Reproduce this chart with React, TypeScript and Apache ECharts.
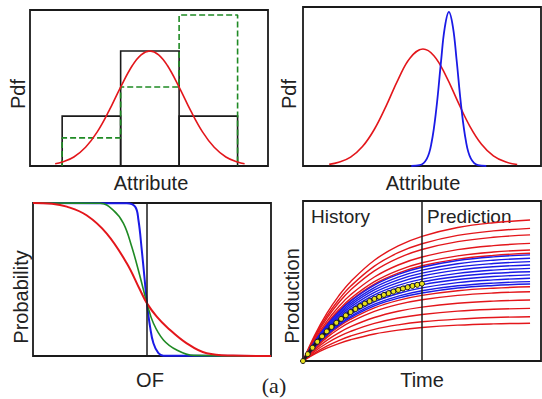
import React, { useEffect, useRef } from "react";
import * as echarts from "echarts";

// ---- Top-left: histogram of an attribute with its fitted pdf ----
const BIN_LEFT = [0, 1, 2];
const BIN_RIGHT = [1, 2, 3];
const BIN_PDF = [0.32, 0.737, 0.32];
const BIN_PDF_ALT = [0.18, 0.506, 0.968];
const FIT_X = [-0.12, 0, 0.2, 0.4, 0.6, 0.8, 1.0, 1.2, 1.35, 1.5, 1.65, 1.8, 2.0, 2.2, 2.4, 2.6, 2.8, 3.0, 3.12];
const FIT_Y = [0.014, 0.025, 0.058, 0.12, 0.219, 0.353, 0.506, 0.644, 0.713, 0.737, 0.713, 0.644, 0.506, 0.353, 0.219, 0.12, 0.058, 0.025, 0.014];

// ---- Top-right: prior (wide) and posterior (narrow) pdf ----
const PRIOR_X = [1.1, 1.5, 2.0, 2.5, 3.0, 3.5, 4.0, 4.5, 5.04, 5.5, 6.0, 6.5, 7.0, 7.5, 8.0, 8.5, 9.0];
const PRIOR_Y = [0.01, 0.023, 0.056, 0.122, 0.231, 0.38, 0.545, 0.679, 0.736, 0.694, 0.569, 0.407, 0.253, 0.137, 0.064, 0.026, 0.009];
const POST_X = [4.55, 4.9, 5.2, 5.4, 5.6, 5.8, 5.95, 6.13, 6.3, 6.45, 6.65, 6.85, 7.05, 7.35, 7.7];
const POST_Y = [0.0, 0.005, 0.045, 0.146, 0.357, 0.658, 0.864, 0.969, 0.874, 0.673, 0.371, 0.153, 0.048, 0.005, 0.0];

// ---- Bottom-left: exceedance probability vs objective function ----
const OF_MARK = 4.79;
const WIDE_X = [0, 0.8, 1.42, 2.25, 3.1, 3.94, 4.5, 4.79, 5.2, 5.62, 6.46, 7.3, 8.4, 10];
const WIDE_P = [1, 0.995, 0.976, 0.92, 0.8, 0.606, 0.431, 0.344, 0.257, 0.19, 0.083, 0.018, 0.003, 0];
const MID_X = [0, 2.82, 3.37, 3.8, 4.15, 4.5, 4.79, 5.06, 5.48, 6.04, 6.74, 10];
const MID_P = [1, 0.998, 0.954, 0.867, 0.714, 0.518, 0.344, 0.214, 0.105, 0.039, 0.004, 0];
const NARROW_X = [0, 3.94, 4.29, 4.43, 4.57, 4.68, 4.79, 4.92, 5.06, 5.27, 5.48, 10];
const NARROW_P = [1, 0.998, 0.976, 0.889, 0.693, 0.518, 0.344, 0.19, 0.083, 0.018, 0.002, 0];

// ---- Bottom-right: production forecasts ----
const HISTORY_END = 5;
const RUN_TIME = [0, 0.5, 1, 1.5, 2, 3, 4, 5, 6.5, 8, 9.54];
const PRIOR_RUNS = [
  [0, 1.63, 2.97, 4.07, 4.96, 6.3, 7.19, 7.79, 8.34, 8.64, 8.81],
  [0, 1.54, 2.8, 3.83, 4.67, 5.93, 6.77, 7.33, 7.85, 8.13, 8.29],
  [0, 1.46, 2.66, 3.64, 4.44, 5.63, 6.43, 6.97, 7.46, 7.73, 7.88],
  [0, 1.36, 2.48, 3.39, 4.14, 5.25, 6.0, 6.5, 6.96, 7.21, 7.35],
  [0, 1.29, 2.34, 3.2, 3.91, 4.96, 5.67, 6.14, 6.57, 6.81, 6.94],
  [0, 1.25, 2.27, 3.11, 3.79, 4.81, 5.49, 5.95, 6.37, 6.6, 6.73],
  [0, 0.86, 1.57, 2.14, 2.61, 3.32, 3.79, 4.1, 4.39, 4.55, 4.64],
  [0, 0.8, 1.46, 2.0, 2.44, 3.1, 3.54, 3.83, 4.1, 4.25, 4.33],
  [0, 0.71, 1.29, 1.76, 2.15, 2.72, 3.11, 3.37, 3.61, 3.74, 3.81],
  [0, 0.61, 1.11, 1.52, 1.85, 2.35, 2.69, 2.91, 3.12, 3.23, 3.29],
  [0, 0.51, 0.93, 1.28, 1.56, 1.98, 2.26, 2.45, 2.62, 2.72, 2.77],
  [0, 0.44, 0.8, 1.09, 1.33, 1.69, 1.93, 2.09, 2.24, 2.32, 2.36],
];
const MATCHED_RUNS = [
  [0, 1.23, 2.24, 3.06, 3.74, 4.74, 5.41, 5.86, 6.28, 6.51, 6.63],
  [0, 1.19, 2.17, 2.96, 3.62, 4.59, 5.24, 5.68, 6.08, 6.3, 6.42],
  [0, 1.15, 2.1, 2.87, 3.5, 4.44, 5.07, 5.49, 5.88, 6.09, 6.21],
  [0, 1.11, 2.02, 2.77, 3.38, 4.29, 4.9, 5.31, 5.68, 5.89, 6.0],
  [0, 1.07, 1.95, 2.67, 3.26, 4.14, 4.73, 5.12, 5.48, 5.68, 5.79],
  [0, 1.04, 1.88, 2.58, 3.14, 3.99, 4.56, 4.94, 5.28, 5.48, 5.58],
  [0, 1.0, 1.82, 2.48, 3.03, 3.85, 4.39, 4.76, 5.09, 5.28, 5.38],
  [0, 0.96, 1.74, 2.39, 2.91, 3.7, 4.22, 4.57, 4.9, 5.07, 5.17],
  [0, 0.92, 1.67, 2.29, 2.79, 3.55, 4.05, 4.39, 4.7, 4.87, 4.96],
  [0, 0.89, 1.62, 2.22, 2.71, 3.44, 3.93, 4.25, 4.56, 4.72, 4.81],
];
const OBS_TIME = [0, 0.2, 0.4, 0.6, 0.8, 1.0, 1.2, 1.4, 1.6, 1.8, 2.0, 2.2, 2.4, 2.6, 2.8, 3.0, 3.2, 3.4, 3.6, 3.8, 4.0, 4.2, 4.4, 4.6, 4.8, 5.0];
const OBS_PROD = [0, 0.43, 0.83, 1.2, 1.54, 1.85, 2.13, 2.39, 2.63, 2.85, 3.06, 3.25, 3.43, 3.59, 3.74, 3.88, 4.01, 4.13, 4.24, 4.34, 4.44, 4.53, 4.61, 4.69, 4.76, 4.83];

const INK = "#1a1a1a";
const RED = "#e3161b";
const BLUE = "#1a1ae6";
const GREEN = "#1f8a24";
const SANS = "'Liberation Sans', Arial, sans-serif";

const zip = (xs: number[], ys: number[]) => xs.map((x, i) => [x, ys[i]]);

const curve = (idx: number, data: number[][], color: string, width: number, extra: any = {}) => ({
  type: "line",
  xAxisIndex: idx,
  yAxisIndex: idx,
  data,
  smooth: 0.4,
  showSymbol: false,
  symbol: "none",
  clip: false,
  silent: true,
  lineStyle: { color, width },
  ...extra,
});

const vline = (x: number) => ({
  silent: true,
  symbol: ["none", "none"],
  label: { show: false },
  lineStyle: { color: INK, width: 1.5, type: "solid" },
  data: [{ xAxis: x }],
});

const label = (text: string, x: number, y: number, opts: any = {}) => ({
  type: "text",
  x,
  y,
  rotation: opts.rotate ? Math.PI / 2 : 0,
  style: {
    text,
    x: 0,
    y: 0,
    fill: "#222",
    fontSize: opts.size || 20,
    fontFamily: opts.family || SANS,
    textAlign: opts.align || "center",
    textVerticalAlign: "middle",
  },
});

export default function App() {
  const ref = useRef<HTMLDivElement>(null);

  useEffect(() => {
    if (!ref.current) return;
    const chart = echarts.init(ref.current, null, { renderer: "svg" });

    const frames = [
      { left: 30, top: 10, width: 238, height: 156 },
      { left: 303, top: 7, width: 238, height: 159 },
      { left: 33, top: 203, width: 238, height: 153 },
      { left: 303, top: 201, width: 238, height: 160 },
    ].map((g) => ({ ...g, show: true, borderColor: INK, borderWidth: 1.8, backgroundColor: "transparent" }));

    const xRanges = [
      [-0.55, 3.52],
      [0, 10],
      [0, 10],
      [0, 10],
    ];
    const yRanges = [
      [0, 1],
      [0, 1],
      [0, 1],
      [0, 10],
    ];

    // step outline of the alternative histogram
    const altOutline: number[][] = [[BIN_LEFT[0], 0]];
    BIN_PDF_ALT.forEach((h, i) => {
      altOutline.push([BIN_LEFT[i], h], [BIN_RIGHT[i], h]);
    });
    altOutline.push([BIN_RIGHT[BIN_RIGHT.length - 1], 0]);

    const series: any[] = [
      curve(0, altOutline, GREEN, 1.6, { smooth: false, lineStyle: { color: GREEN, width: 1.6, type: [6, 3] } }),
      {
        type: "custom",
        xAxisIndex: 0,
        yAxisIndex: 0,
        silent: true,
        clip: false,
        data: BIN_LEFT.map((l, i) => [l, BIN_RIGHT[i], BIN_PDF[i]]),
        encode: { x: [0, 1], y: 2 },
        renderItem: (_p: any, api: any) => {
          const a = api.coord([api.value(0), api.value(2)]);
          const b = api.coord([api.value(1), 0]);
          return {
            type: "rect",
            shape: { x: a[0], y: a[1], width: b[0] - a[0], height: b[1] - a[1] },
            style: { fill: "none", stroke: INK, lineWidth: 1.6 },
          };
        },
      },
      curve(0, zip(FIT_X, FIT_Y), RED, 1.6),

      curve(1, zip(PRIOR_X, PRIOR_Y), RED, 1.6),
      curve(1, zip(POST_X, POST_Y), BLUE, 1.8),

      curve(2, zip(NARROW_X, NARROW_P), BLUE, 2),
      curve(2, zip(MID_X, MID_P), GREEN, 1.6),
      curve(2, zip(WIDE_X, WIDE_P), RED, 2, { markLine: vline(OF_MARK) }),
    ];

    PRIOR_RUNS.forEach((run) => series.push(curve(3, zip(RUN_TIME, run), RED, 1.4)));
    MATCHED_RUNS.forEach((run) => series.push(curve(3, zip(RUN_TIME, run), BLUE, 1.4)));
    series.push({
      type: "line",
      xAxisIndex: 3,
      yAxisIndex: 3,
      data: zip(OBS_TIME, OBS_PROD),
      symbol: "circle",
      symbolSize: 5,
      showSymbol: true,
      clip: false,
      silent: true,
      smooth: 0.4,
      lineStyle: { color: INK, width: 3 },
      itemStyle: { color: "#e9e21c", borderColor: INK, borderWidth: 1 },
      markLine: vline(HISTORY_END),
      z: 5,
    });

    chart.setOption({
      animation: false,
      backgroundColor: "#ffffff",
      grid: frames,
      xAxis: xRanges.map((r, i) => ({ type: "value", gridIndex: i, min: r[0], max: r[1], show: false })),
      yAxis: yRanges.map((r, i) => ({ type: "value", gridIndex: i, min: r[0], max: r[1], show: false })),
      series,
      graphic: [
        label("Pdf", 18, 94, { rotate: true }),
        label("Attribute", 151, 183),
        label("Pdf", 289, 94, { rotate: true }),
        label("Attribute", 423, 183),
        label("Probability", 21, 297, { rotate: true }),
        label("OF", 150, 380),
        label("Production", 292, 296, { rotate: true }),
        label("Time", 422, 380),
        label("History", 311, 216, { align: "left", size: 19 }),
        label("Prediction", 427, 216, { align: "left", size: 19 }),
        label("(a)", 274, 385, { family: "'Liberation Serif', 'Times New Roman', serif", size: 22 }),
      ],
    });

    return () => chart.dispose();
  }, []);

  return (
    <div
      ref={ref}
      style={{ position: "fixed", left: 0, top: 0, width: 542, height: 399, background: "#fff" }}
    />
  );
}
